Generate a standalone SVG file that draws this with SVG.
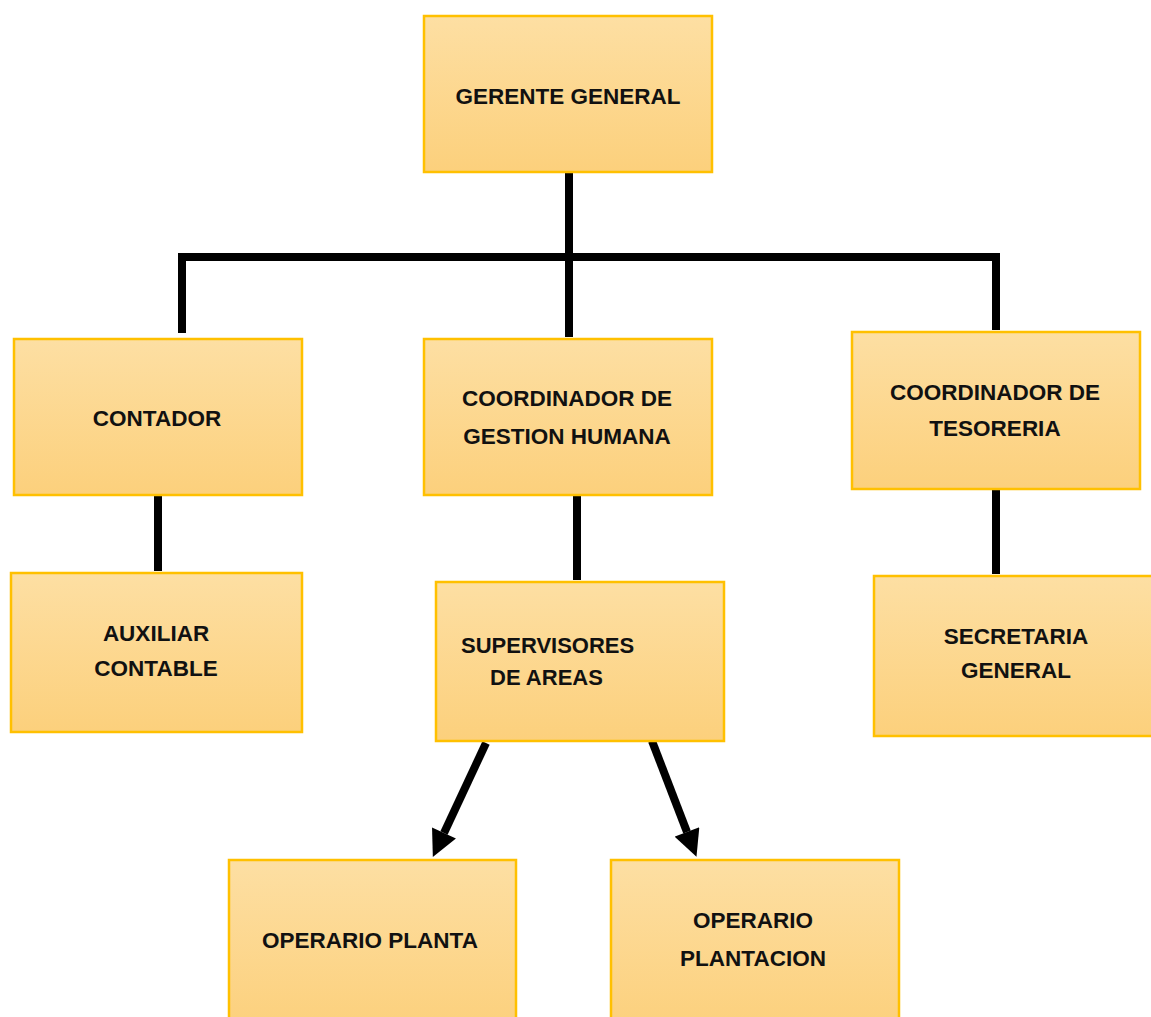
<svg xmlns="http://www.w3.org/2000/svg" width="1151" height="1017" viewBox="0 0 1151 1017">
<defs>
<linearGradient id="g" x1="0" y1="0" x2="0" y2="1">
<stop offset="0" stop-color="#FDDFA3"/>
<stop offset="1" stop-color="#FCD07C"/>
</linearGradient>
<marker id="ah" viewBox="0 0 10 10" refX="0" refY="5" markerWidth="3.5" markerHeight="3.3" orient="auto" markerUnits="strokeWidth">
<path d="M0,0 L10,5 L0,10 Z" fill="#000"/>
</marker>
</defs>
<style>
.box{fill:url(#g);stroke:#FFC000;stroke-width:2.5}
.t{font-family:"Liberation Sans",Arial,sans-serif;font-weight:bold;font-size:22.5px;fill:#111;text-anchor:middle}
.s{text-anchor:start;font-size:22px}
.c{stroke:#000;stroke-width:8;fill:none}
</style>
<rect width="1151" height="1017" fill="#fff"/>
<g id="connectors">
<path class="c" d="M569,172 V337"/>
<path class="c" d="M182,333 V257 H996 V330"/>
<path class="c" d="M158,495 V571"/>
<path class="c" d="M577,495 V580"/>
<path class="c" d="M996,489 V574"/>
<path class="c" d="M486,743 L444,833" marker-end="url(#ah)"/>
<path class="c" d="M652,741 L687,832" marker-end="url(#ah)"/>
</g>
<g id="gerente"><rect class="box" x="424" y="16" width="288" height="156"/><text class="t" x="568" y="104">GERENTE GENERAL</text></g>
<g id="contador"><rect class="box" x="14" y="339" width="288" height="156"/><text class="t" x="157" y="426">CONTADOR</text></g>
<g id="coord-gh"><rect class="box" x="424" y="339" width="288" height="156"/><text class="t" x="567" y="406">COORDINADOR DE</text><text class="t" x="567" y="444">GESTION HUMANA</text></g>
<g id="coord-tes"><rect class="box" x="852" y="332" width="288" height="157"/><text class="t" x="995" y="400">COORDINADOR DE</text><text class="t" x="995" y="436">TESORERIA</text></g>
<g id="auxiliar"><rect class="box" x="11" y="573" width="291" height="159"/><text class="t" x="156" y="641">AUXILIAR</text><text class="t" x="156" y="676">CONTABLE</text></g>
<g id="supervisores"><rect class="box" x="436" y="582" width="288" height="159"/><text class="t s" x="461" y="653">SUPERVISORES</text><text class="t s" x="490" y="685">DE AREAS</text></g>
<g id="secretaria"><rect class="box" x="874" y="576" width="290" height="160"/><text class="t" x="1016" y="644">SECRETARIA</text><text class="t" x="1016" y="678">GENERAL</text></g>
<g id="op-planta"><rect class="box" x="229" y="860" width="287" height="170"/><text class="t" x="370" y="948">OPERARIO PLANTA</text></g>
<g id="op-plantacion"><rect class="box" x="611" y="860" width="288" height="170"/><text class="t" x="753" y="928">OPERARIO</text><text class="t" x="753" y="966">PLANTACION</text></g>
</svg>
